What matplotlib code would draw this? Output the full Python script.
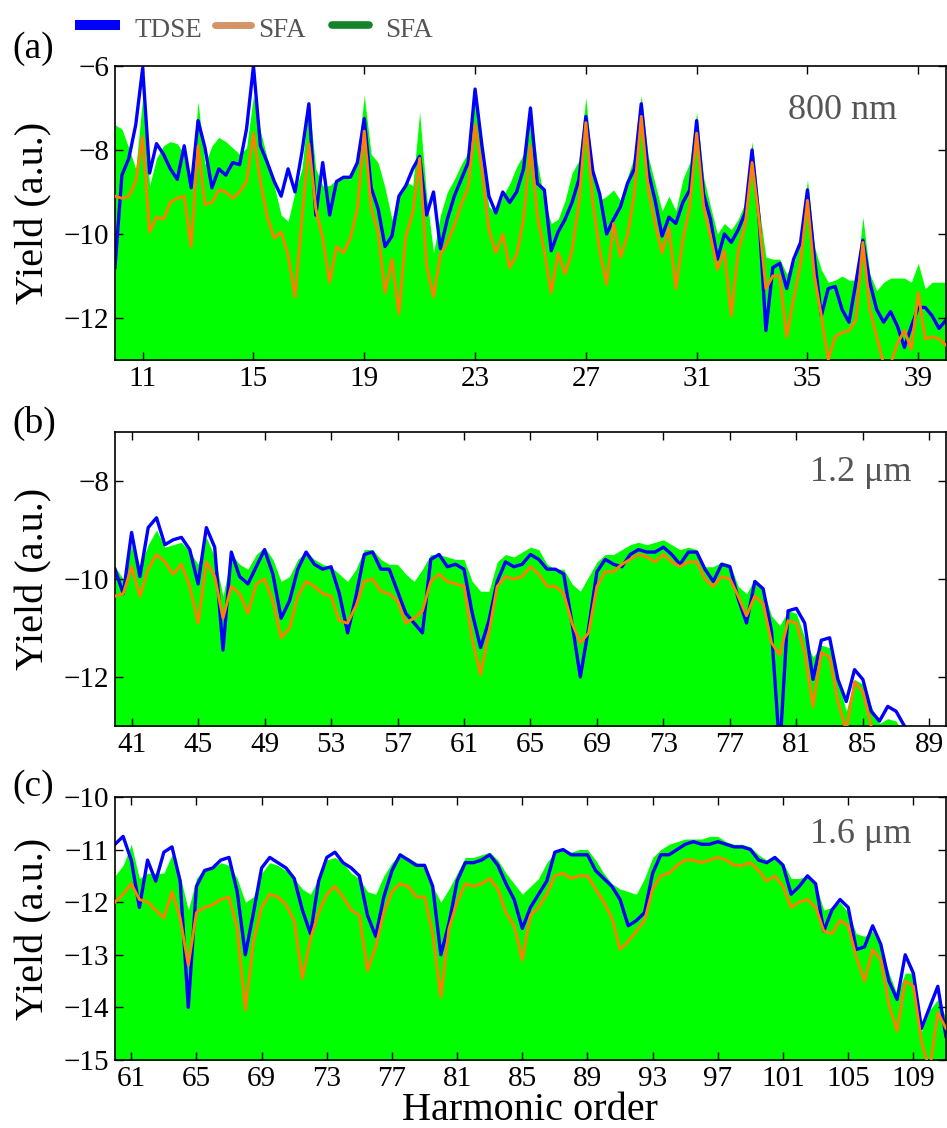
import numpy as np
import matplotlib
matplotlib.use("Agg")
import matplotlib.pyplot as plt
from matplotlib.lines import Line2D

plt.rcParams["font.family"] = ["Liberation Serif", "DejaVu Serif"]

# ---- (a) 800 nm, harmonic orders 10-40 sampled every 0.25 ----
h_a = np.arange(10.0, 40.0 + 0.01, 0.25)
tdse_a = [
    -10.8, -8.6, -8.2, -7.4, -6.05, -8.55, -7.85, -8.1,
    -8.45, -8.7, -7.9, -8.9, -7.3, -7.95, -8.9, -8.45,
    -8.6, -8.3, -8.35, -7.5, -6.0, -7.9, -8.3, -8.75,
    -9.1, -8.45, -9.0, -8.05, -6.9, -9.55, -8.3, -9.55,
    -8.75, -8.65, -8.65, -8.3, -7.25, -8.9, -9.4, -10.3,
    -10.05, -9.1, -8.85, -8.45, -8.15, -9.55, -9.0, -10.35,
    -9.65, -9.1, -8.7, -8.3, -6.55,
    -7.9, -9.1, -9.5, -9.0, -9.25, -9.0, -8.45, -7.0,
    -8.8, -8.95, -10.4, -9.95, -9.65, -9.25, -8.7, -7.2,
    -8.5, -9.05, -10.0, -9.65, -9.35, -8.8, -8.45, -6.9,
    -8.5, -9.2, -10.05, -9.6, -9.75, -9.25, -8.95, -7.3,
    -9.05, -9.65, -10.6, -10.0, -10.2, -9.9, -9.5, -8.0,
    -9.6, -12.3, -10.8, -10.7, -11.3, -10.6, -10.2, -8.95,
    -10.55, -11.95, -11.3, -11.25, -11.8, -12.1, -11.15, -10.15,
    -11.15, -11.8, -12.1, -11.85, -12.2, -12.7, -12.2, -11.75,
    -11.75, -11.95, -12.25, -12.05,
]
sfa_a = [
    -9.1, -9.15, -9.1, -8.75, -7.7, -9.95, -9.6, -9.65,
    -9.25, -9.15, -9.1, -10.3, -7.9, -9.3, -9.25, -8.95,
    -9.0, -9.15, -9.0, -8.75, -7.6, -8.75, -9.6, -10.1,
    -9.95, -10.5, -11.5, -9.65, -7.85, -9.4, -10.1, -11.15,
    -10.3, -10.45, -10.1, -9.4, -7.55, -9.4, -9.95, -11.4,
    -10.6, -11.9, -10.05, -9.5, -8.2, -10.75, -11.5, -10.5,
    -10.2, -9.8, -9.3, -8.9, -7.4,
    -8.5, -9.9, -10.45, -10.0, -10.8, -10.5, -9.65, -7.9,
    -9.6, -10.4, -11.4, -10.45, -10.95, -10.4, -9.25, -7.35,
    -9.25, -10.4, -11.2, -9.75, -10.55, -10.05, -9.05, -7.2,
    -8.95, -9.75, -10.45, -9.85, -11.3, -10.15, -9.35, -7.6,
    -9.35, -10.05, -10.85, -10.4, -11.95, -10.4, -9.8, -8.3,
    -9.65, -11.3, -11.0, -11.0, -12.45, -11.55, -10.7, -9.2,
    -11.0, -11.95, -13.0, -12.45, -12.35, -12.3, -12.05, -10.2,
    -11.8, -12.45, -13.1, -13.1, -12.6, -12.3, -12.75, -11.4,
    -12.5, -12.45, -12.5, -12.65,
]
sfa2_a = [
    -7.4, -7.5, -7.95, -8.45, -6.75, -8.85, -8.2, -7.9,
    -7.8, -7.85, -8.1, -8.7, -6.85, -8.35, -7.9, -7.7,
    -7.8, -7.95, -8.1, -7.95, -6.7, -7.55, -8.2, -8.85,
    -9.55, -9.7, -9.0, -8.45, -6.85, -8.45, -8.85, -8.85,
    -8.7, -8.6, -8.7, -8.2, -6.7, -8.1, -8.3, -8.9,
    -9.65, -9.1, -8.75, -8.85, -7.1, -9.1, -10.45, -9.55,
    -9.0, -8.7, -8.35, -8.05, -6.5,
    -8.25, -9.35, -9.5, -9.1, -8.8, -8.4, -8.1, -7.05,
    -8.3, -9.2, -9.75, -9.65, -9.2, -8.55, -8.25, -6.75,
    -8.55, -9.2, -9.1, -8.95, -9.2, -8.65, -8.15, -6.7,
    -8.15, -8.8, -9.45, -9.1, -9.45, -8.7, -8.3, -7.1,
    -8.65, -9.35, -10.0, -9.75, -9.9, -9.65, -9.25, -7.8,
    -9.35, -10.55, -10.6, -10.6, -10.95, -10.7, -10.2, -8.7,
    -10.3, -10.85, -11.15, -11.1, -11.0, -11.1, -11.1, -9.6,
    -10.95, -11.35, -11.15, -11.05, -11.05, -11.05, -11.15, -10.7,
    -11.3, -11.15, -11.15, -11.15,
]

# ---- (b) 1.2 um, harmonic orders 40-88 sampled every 0.5 ----
h_b = np.arange(40.0, 88.0 + 0.01, 0.5)
tdse_b = [
    -9.8, -10.3, -9.05, -9.95, -8.95, -8.75, -9.3, -9.2, -9.15, -9.4,
    -10.1, -8.95, -9.35, -11.45, -9.45, -9.95, -10.1, -9.75, -9.4, -9.9,
    -10.8, -10.45, -9.8, -9.45, -9.7, -9.8, -9.75, -10.3, -11.1, -10.35,
    -9.5, -9.45, -9.8, -9.8, -10.25, -10.7, -10.9, -11.1, -9.6, -9.5,
    -9.75, -9.7, -9.8, -10.7, -11.4, -10.85, -10.05, -9.65, -9.75, -9.7,
    -9.5, -9.6, -9.8, -9.8, -9.9, -10.9, -12.0, -11.0, -9.85, -9.6,
    -9.7, -9.75, -9.5, -9.4, -9.45, -9.45, -9.35, -9.5, -9.7, -9.45,
    -9.45, -9.8, -10.05, -9.7, -9.75, -10.4, -10.9, -10.05, -10.2, -11.05,
    -13.5, -10.65, -10.6, -10.9, -12.05, -11.25, -11.2, -12.05, -12.5, -11.85,
    -12.05, -12.7, -12.9, -12.6, -12.7, -13.0, -13.6,
]
sfa_b = [
    -10.35, -10.3, -9.75, -10.35, -9.8, -9.5, -9.65, -9.9, -9.7, -10.15,
    -10.9, -9.65, -9.95, -10.8, -10.15, -10.3, -10.7, -10.1, -10.0, -10.45,
    -11.2, -11.0, -10.35, -10.05, -10.15, -10.3, -10.35, -10.85, -10.9, -10.55,
    -10.05, -10.0, -10.25, -10.3, -10.45, -10.9, -10.8, -10.65, -10.05, -9.9,
    -10.05, -10.1, -10.15, -11.25, -11.95, -11.1, -10.15, -9.95, -10.0, -9.95,
    -9.75, -9.9, -10.15, -10.15, -10.3, -10.9, -11.3, -11.1, -10.15, -9.85,
    -9.85, -9.7, -9.6, -9.5, -9.55, -9.65, -9.5, -9.65, -9.75, -9.65,
    -9.65, -10.0, -10.15, -9.95, -10.0, -10.35, -10.75, -10.35, -10.5, -11.3,
    -11.55, -10.85, -10.9, -11.5, -12.6, -11.5, -11.6, -12.5, -13.1, -12.1,
    -12.3, -13.0, -13.5, -13.6, -13.7, -13.8, -13.9,
]
sfa2_b = [
    -9.75, -10.0, -9.3, -9.75, -9.3, -9.0, -9.35, -9.3, -9.25, -9.45,
    -9.7, -9.15, -9.55, -10.35, -9.5, -9.7, -9.8, -9.5, -9.35, -9.6,
    -10.05, -9.95, -9.6, -9.45, -9.6, -9.7, -9.75, -9.9, -10.05, -9.8,
    -9.4, -9.4, -9.6, -9.7, -9.7, -9.9, -10.05, -9.8, -9.5, -9.5,
    -9.55, -9.6, -9.6, -10.05, -10.25, -10.25, -9.65, -9.5, -9.55, -9.45,
    -9.35, -9.4, -9.7, -9.8, -9.8, -10.1, -10.25, -9.95, -9.65, -9.5,
    -9.5, -9.4, -9.3, -9.25, -9.3, -9.25, -9.2, -9.3, -9.4, -9.35,
    -9.4, -9.75, -9.75, -9.65, -9.7, -10.15, -10.3, -10.0, -10.2, -10.75,
    -10.95, -10.65, -10.7, -11.2, -11.6, -11.35, -11.4, -12.05, -12.7, -12.05,
    -12.15, -12.6, -12.95, -12.85, -12.9, -13.2, -13.5,
]

# ---- (c) 1.6 um, harmonic orders 60-111 sampled every 0.5 ----
h_c = np.arange(60.0, 111.0 + 0.01, 0.5)
tdse_c = [
    -10.9, -10.75, -11.2, -12.1, -11.2, -11.6, -11.05, -10.95, -11.6, -14.0,
    -11.7, -11.4, -11.35, -11.2, -11.15, -11.8, -13.0, -12.2, -11.35, -11.15,
    -11.25, -11.35, -11.55, -12.15, -12.6, -11.6, -11.15, -11.05, -11.25, -11.35,
    -11.5, -12.25, -12.65, -11.9, -11.4, -11.1, -11.2, -11.3, -11.3, -11.7,
    -13.0, -12.4, -11.6, -11.25, -11.25, -11.2, -11.1, -11.3, -11.65, -11.95,
    -12.5, -12.1, -11.85, -11.6, -11.05, -11.0, -11.1, -11.1, -11.1, -11.4,
    -11.55, -11.7, -11.95, -12.45, -12.35, -12.2, -11.45, -11.1, -11.1, -11.0,
    -10.9, -10.85, -10.9, -10.9, -10.85, -10.9, -10.95, -10.95, -11.0, -11.2,
    -11.25, -11.15, -11.3, -11.85, -11.7, -11.5, -11.65, -12.55, -12.15, -11.95,
    -12.1, -12.9, -12.85, -12.45, -12.8, -13.5, -13.85, -13.0, -13.35, -14.4,
    -14.0, -13.6, -14.55,
]
sfa_c = [
    -12.0, -11.85, -11.65, -11.95, -12.0, -12.15, -12.3, -11.8, -12.3, -13.2,
    -12.2, -12.1, -12.05, -11.95, -11.9, -12.5, -14.05, -12.75, -12.1, -11.85,
    -11.9, -12.05, -12.35, -13.45, -12.7, -12.2, -11.85, -11.7, -11.9, -12.15,
    -12.25, -13.3, -12.85, -12.2, -11.8, -11.65, -11.7, -11.9, -11.9, -12.6,
    -13.8, -12.5, -12.0, -11.65, -11.7, -11.65, -11.55, -11.75, -12.2, -12.45,
    -13.1, -12.25, -12.1, -11.85, -11.5, -11.45, -11.55, -11.5, -11.5, -11.75,
    -12.0, -12.3, -12.9, -12.75, -12.55, -12.35, -11.75, -11.5, -11.45, -11.3,
    -11.2, -11.2, -11.25, -11.2, -11.15, -11.2, -11.3, -11.3, -11.25, -11.4,
    -11.6, -11.5, -11.7, -12.1, -12.0, -11.95, -12.1, -12.55, -12.6, -12.35,
    -12.45, -13.05, -13.5, -12.9, -13.1, -13.95, -14.45, -13.5, -13.6, -14.65,
    -15.2, -14.1, -14.4,
]
sfa2_c = [
    -11.5, -11.3, -10.9, -11.55, -11.45, -11.45, -11.45, -11.1, -11.5, -12.15,
    -11.55, -11.35, -11.35, -11.25, -11.3, -11.55, -12.0, -11.9, -11.45, -11.25,
    -11.3, -11.4, -11.55, -11.75, -11.85, -11.55, -11.2, -11.15, -11.25, -11.45,
    -11.55, -11.8, -11.85, -11.5, -11.25, -11.1, -11.15, -11.25, -11.35, -11.7,
    -12.0, -11.75, -11.45, -11.15, -11.15, -11.1, -11.05, -11.2, -11.45, -11.65,
    -11.85, -11.7, -11.55, -11.25, -11.05, -11.0, -11.05, -11.0, -11.0, -11.2,
    -11.45, -11.65, -11.75, -11.8, -11.85, -11.55, -11.15, -11.0, -10.9, -10.85,
    -10.8, -10.8, -10.8, -10.75, -10.75, -10.85, -10.9, -10.9, -10.95, -11.1,
    -11.2, -11.15, -11.25, -11.55, -11.55, -11.5, -11.65, -12.15, -12.1, -12.0,
    -12.2, -12.6, -12.65, -12.55, -12.85, -13.35, -13.75, -13.35, -13.35, -14.45,
    -14.05, -13.85, -14.2,
]

panels = [
    dict(h=h_a, tdse=tdse_a, sfa=sfa_a, sfa2=sfa2_a, xlim=(10, 40), ylim=(-13, -6),
         xticks=range(11, 40, 4), yticks=[-12, -10, -8, -6], tag="(a)", note="800 nm",
         rect=[0.1214, 0.6809, 0.8775, 0.2606], note_xy=(0.875, 0.85), tag_y=49),
    dict(h=h_b, tdse=tdse_b, sfa=sfa_b, sfa2=sfa2_b, xlim=(40, 90), ylim=(-13, -7),
         xticks=range(41, 90, 4), yticks=[-12, -10, -8], tag="(b)", note="1.2 μm",
         rect=[0.1214, 0.3564, 0.8775, 0.2606], note_xy=(0.898, 0.864), tag_y=423),
    dict(h=h_c, tdse=tdse_c, sfa=sfa_c, sfa2=sfa2_c, xlim=(60, 111), ylim=(-15, -10),
         xticks=range(61, 111, 4), yticks=[-15, -14, -13, -12, -11, -10], tag="(c)",
         note="1.6 μm", rect=[0.1214, 0.0603, 0.8775, 0.2332], note_xy=(0.898, 0.856),
         tag_y=787),
]

W, H = 947, 1128
fig = plt.figure(figsize=(W / 100, H / 100), dpi=100)

for p in panels:
    ax = fig.add_axes(p["rect"])
    lo = p["ylim"][0] - 2
    ax.fill_between(p["h"], lo, p["sfa2"], color="#00ff00", lw=0, zorder=1)
    ax.plot(p["h"], p["tdse"], color="#0000ff", lw=2.4, zorder=2)
    ax.plot(p["h"], p["sfa"], color="#ff7f00", lw=2.1, zorder=3)
    ax.set_xlim(*p["xlim"])
    ax.set_ylim(*p["ylim"])
    ax.set_xticks(list(p["xticks"]))
    ax.set_yticks(p["yticks"])
    ax.tick_params(direction="in", top=True, right=True, length=5.5, width=1.0,
                   labelsize=21, pad=4)
    for s in ax.spines.values():
        s.set_linewidth(1.2)
    ax.set_ylabel("Yield (a.u.)", fontsize=29)
    ax.yaxis.set_label_coords(-0.075, 0.5)
    ax.text(*p["note_xy"], p["note"], transform=ax.transAxes, ha="center",
            va="center", fontsize=26, color="#555555")
    fig.text(12 / W, 1 - p["tag_y"] / H, p["tag"], fontsize=27, ha="left", va="center")
    last = ax

last.set_xlabel("Harmonic order", fontsize=29, labelpad=0)

# legend strip across the top
y_leg = 1 - 25 / H
fig.add_artist(Line2D([75 / W, 120 / W], [y_leg, y_leg], lw=7.2, color="#0000ff",
                      solid_capstyle="butt", transform=fig.transFigure))
fig.add_artist(Line2D([215 / W, 251 / W], [y_leg, y_leg], lw=5, color="#d59468",
                      solid_capstyle="round", transform=fig.transFigure))
fig.add_artist(Line2D([332 / W, 369 / W], [y_leg, y_leg], lw=5.5, color="#15832d",
                      solid_capstyle="round", transform=fig.transFigure))
for x0, lab in [(134, "TDSE"), (258, "SFA"), (385, "SFA")]:
    fig.text(x0 / W, 1 - 37 / H, lab, fontsize=19.5, color="#555555", ha="left",
             va="baseline")

fig.savefig("out.png", dpi=100)
